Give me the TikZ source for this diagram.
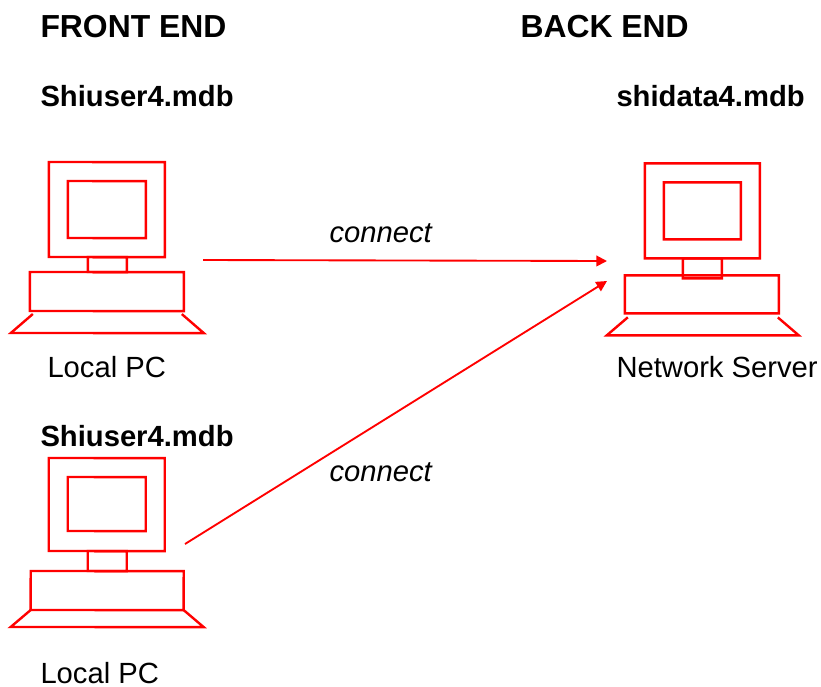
\documentclass[tikz,border=0pt]{standalone}
\usepackage{fontspec}
\setmainfont{Liberation Sans}
\usetikzlibrary{arrows.meta}
\definecolor{pcred}{rgb}{1,0,0}
\tikzset{every picture/.style={line width=0.75pt}}
\tikzset{
  pcline/.style={color=pcred,draw opacity=1,line width=1.8,line join=miter,rotate=0.03},
  linkline/.style={color=pcred,draw opacity=1,line width=1.4,-{Triangle[length=8pt,width=8pt]}},
  headtext/.style={anchor=base west,inner sep=0pt,font=\bfseries\fontsize{23.9}{28}\selectfont},
  filetext/.style={anchor=base west,inner sep=0pt,font=\bfseries\fontsize{21.9}{26}\selectfont},
  pctext/.style={anchor=base west,inner sep=0pt,font=\fontsize{21.9}{26}\selectfont},
  linktext/.style={anchor=base west,inner sep=0pt,font=\itshape\fontsize{21.9}{26}\selectfont}
}

\begin{document}
\begin{tikzpicture}[x=0.75pt,y=0.75pt,yscale=-1,xscale=1]
\useasboundingbox (0,0) rectangle (821,686);

%Shape: Local PC top
\draw [pcline] (49,162) rectangle (165,257);
\draw [pcline] (68,181) rectangle (146,238);
\draw [pcline] (88,257) rectangle (127,272);
\draw [pcline] (30,272) rectangle (184,311);
\draw [pcline] (33,314) -- (11,333) -- (204,333) -- (182,314);

%Shape: Network Server
\draw [pcline] (645,163) rectangle (760,258);
\draw [pcline] (664,182) rectangle (741,239);
\draw [pcline] (683,258) rectangle (722,278);
\draw [pcline] (625,275) rectangle (779,313);
\draw [pcline] (628,317) -- (607,335) -- (799,335) -- (778,317);

%Shape: Local PC bottom
\draw [pcline] (49,458) rectangle (165,551);
\draw [pcline] (68,477) rectangle (146,531);
\draw [pcline] (88,551) rectangle (127,571);
\draw [pcline] (31,571) rectangle (184,610);
\draw [pcline] (31,610) -- (11,627) -- (204,627) -- (184,610);

%Straight Lines
\coordinate (linkAstart) at (203,260);
\coordinate (linkAend) at (607,261);
\coordinate (linkBstart) at (185,544);
\coordinate (linkBend) at (607,281);
\draw [linkline] (linkAstart) -- (linkAend);
\draw [linkline] (linkBstart) -- (linkBend);

% Text Node
\node (frontend) at (40,37) [headtext] {FRONT END};
% Text Node
\node (backend) at (520,37) [headtext] {BACK END};
% Text Node
\node (fileA) at (40,106) [filetext] {Shiuser4.mdb};
% Text Node
\node (fileS) at (616,106) [filetext] {shidata4.mdb};
% Text Node
\node (connectA) at (329,242) [linktext] {connect};
% Text Node
\node (pcA) at (47,377) [pctext] {Local PC};
% Text Node
\node (server) at (616,377) [pctext] {Network Server};
% Text Node
\node (fileB) at (40,446) [filetext] {Shiuser4.mdb};
% Text Node
\node (connectB) at (329,481) [linktext] {connect};
% Text Node
\node (pcB) at (40,683) [pctext] {Local PC};

\end{tikzpicture}
\end{document}
